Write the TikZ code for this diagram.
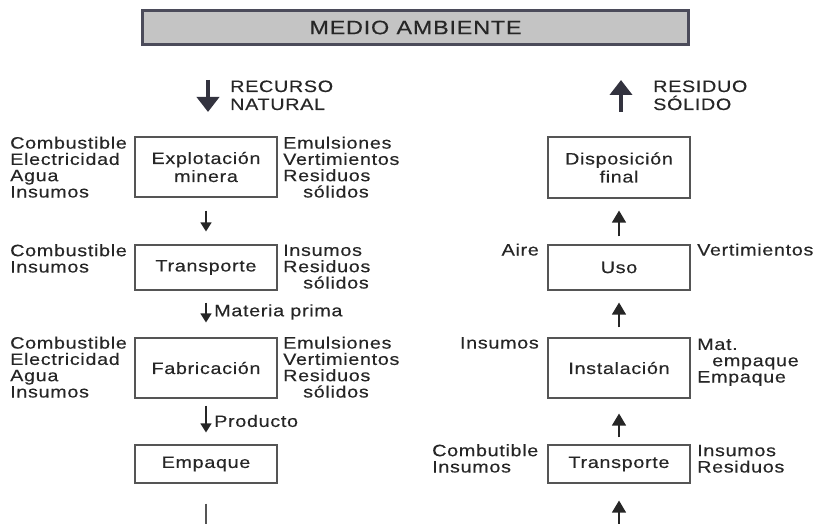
\documentclass[tikz,border=0pt]{standalone}
\usepackage{fontspec}
\setmainfont[FakeStretch=1.2,LetterSpace=4,FakeBold=0.3]{Liberation Sans}
\usetikzlibrary{arrows.meta}
\definecolor{txt}{HTML}{262626}
\definecolor{boxline}{HTML}{555555}
\definecolor{topfill}{HTML}{C4C4C4}
\definecolor{topline}{HTML}{4B4B5A}
\definecolor{bigarr}{HTML}{33333F}
\begin{document}
\begin{tikzpicture}[x=1pt,y=-1pt,
  font=\fontsize{16.5}{16.3}\selectfont, text=txt,
  box/.style={draw=boxline, line width=1.1pt, minimum width=142pt, align=center,
    inner sep=0pt, font=\fontsize{16.5}{18}\selectfont},
  lbl/.style={inner sep=0pt, align=left, anchor=base west},
  rlbl/.style={inner sep=0pt, align=right, anchor=base east},
  sarr/.style={draw=txt, line width=1.3pt, -{Triangle[width=11pt,length=9pt]}},
  uarr/.style={draw=txt, line width=1.3pt, -{Triangle[width=14pt,length=12pt]}},
  barr/.style={draw=bigarr, line width=4pt, -{Triangle[width=22pt,length=15pt]}}]
\useasboundingbox (0,0) rectangle (817,524);

% top box
\node[draw=topline, fill=topfill, line width=2.2pt, minimum width=546pt,
  minimum height=34pt, inner sep=0pt, font=\fontsize{19.5}{20}\selectfont]
  (medio) at (415.5,27.5) {MEDIO AMBIENTE};

% big arrows (node base = baseline of last line)
\coordinate (rnA) at (208,80);
\coordinate (rnB) at (208,112);
\draw[barr] (rnA) -- (rnB);
\node[lbl, font=\fontsize{16.5}{18}\selectfont] (rn) at (230,110) {RECURSO\\NATURAL};
\coordinate (rsA) at (621,112);
\coordinate (rsB) at (621,80);
\draw[barr] (rsA) -- (rsB);
\node[lbl, font=\fontsize{16.5}{18}\selectfont] (rs) at (653,110) {RESIDUO\\SÓLIDO};

% left column boxes
\node[box, minimum height=60pt] (expl) at (206,167) {Explotación\\minera};
\node[box, minimum height=45pt] (transL) at (206,267.5) {Transporte};
\node[box, minimum height=60pt] (fab) at (206,368) {Fabricación};
\node[box, minimum height=38pt] (emp) at (206,464) {Empaque};

% right column boxes
\node[box, minimum height=61pt] (disp) at (619,167.5) {Disposición\\final};
\node[box, minimum height=45pt] (uso) at (619,267.5) {Uso};
\node[box, minimum height=60pt] (inst) at (619,368) {Instalación};
\node[box, minimum height=38pt] (transR) at (619,464) {Transporte};

% left labels
\node[lbl] (eL) at (10,197.5) {Combustible\\Electricidad\\Agua\\Insumos};
\node[lbl] (eR) at (283,197.5) {Emulsiones\\Vertimientos\\Residuos\\\hspace*{20pt}sólidos};
\node[lbl] (tL) at (10,272.5) {Combustible\\Insumos};
\node[lbl] (tR) at (283,288.5) {Insumos\\Residuos\\\hspace*{20pt}sólidos};
\node[lbl] (fL) at (10,397.5) {Combustible\\Electricidad\\Agua\\Insumos};
\node[lbl] (fR) at (283,397.5) {Emulsiones\\Vertimientos\\Residuos\\\hspace*{20pt}sólidos};

% right labels
\node[rlbl] (uL) at (539,255.5) {Aire};
\node[lbl] (uR) at (697,255.5) {Vertimientos};
\node[rlbl] (iL) at (539,348.5) {Insumos};
\node[lbl] (iR) at (697,382.5) {Mat.\\\hspace*{15pt}empaque\\Empaque};
\node[lbl] (trL) at (432,472.5) {Combutible\\Insumos};
\node[lbl] (trR) at (697,472.5) {Insumos\\Residuos};

% left arrows
\draw[sarr, shorten <=13pt, shorten >=13pt] (expl) -- (transL);
\draw[sarr, shorten <=12pt, shorten >=15pt] (transL) -- (fab);
\node[inner sep=0pt, anchor=west] (mp) at (214,312) {Materia prima};
\draw[sarr, shorten <=7pt, shorten >=12pt] (fab) -- (emp);
\node[inner sep=0pt, anchor=west] (pr) at (214,421) {Producto};
\coordinate (endL) at (206,524);
\draw[draw=boxline, line width=1.5pt, shorten <=20pt] (emp) -- (endL);

% right arrows
\draw[uarr, shorten <=8pt, shorten >=12pt] (uso) -- (disp);
\draw[uarr, shorten <=10pt, shorten >=12pt] (inst) -- (uso);
\draw[uarr, shorten <=7pt, shorten >=15pt] (transR) -- (inst);
\coordinate (endR) at (619,524);
\draw[uarr, shorten >=17pt] (endR) -- (transR);
\end{tikzpicture}
\end{document}
